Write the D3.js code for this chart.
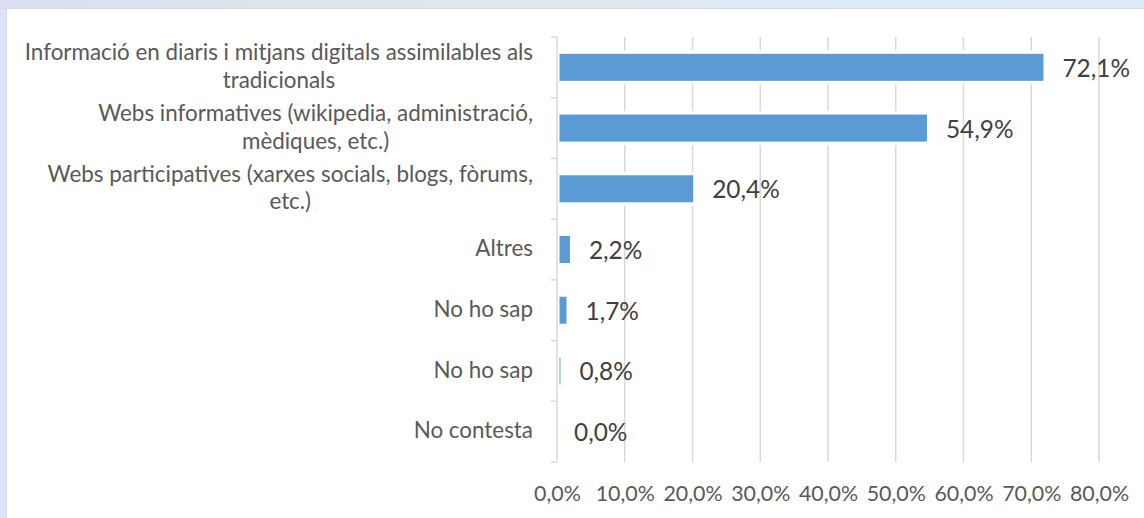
<!DOCTYPE html>
<html><head><meta charset="utf-8">
<script src="https://cdn.jsdelivr.net/npm/d3@7"></script>
<style>html,body{margin:0;padding:0;background:#fff;}svg{display:block;}</style>
</head><body>
<svg id="c" width="1144" height="518"></svg>
<script>
const categories = [
  ["Informació en diaris i mitjans digitals assimilables als", "tradicionals"],
  ["Webs informatives (wikipedia, administració,", "mèdiques, etc.)"],
  ["Webs participatives (xarxes socials, blogs, fòrums,", "etc.)"],
  ["Altres"],
  ["No ho sap"],
  ["No ho sap"],
  ["No contesta"]
];
const values = [72.1, 54.9, 20.4, 2.2, 1.7, 0.8, 0.0];
const tickValues = [0, 10, 20, 30, 40, 50, 60, 70, 80];
const fmt = v => v.toFixed(1).replace(".", ",") + "%";

const svg = d3.select("#c");
const W = 1144, H = 518;
const FONT = "Lato, 'Open Sans', sans-serif";

// frame
const defs = svg.append("defs");
const g1 = defs.append("linearGradient").attr("id","topg").attr("x1","0").attr("x2","1").attr("y1","0").attr("y2","0");
g1.append("stop").attr("offset","0").attr("stop-color","#d9dff2");
g1.append("stop").attr("offset","0.35").attr("stop-color","#dde7ea");
g1.append("stop").attr("offset","0.7").attr("stop-color","#dfebf8");
g1.append("stop").attr("offset","1").attr("stop-color","#dcecfb");
svg.append("rect").attr("width",W).attr("height",H).attr("fill","#dde2fb");
svg.append("rect").attr("width",W).attr("height",9).attr("fill","url(#topg)");
svg.append("rect").attr("x",6).attr("y",8).attr("width",W-6).attr("height",H-8).attr("fill","#d6d9e0");
svg.append("rect").attr("x",7).attr("y",9).attr("width",W-7).attr("height",H-9).attr("fill","#ffffff");

const x0 = 557, x1 = 1099, yTop = 37, yBot = 462;
const x = d3.scaleLinear().domain([0, 80]).range([x0, x1]);
const band = d3.scaleBand().domain(d3.range(categories.length)).range([yTop, yBot]);
const y = d3.scaleBand().domain(d3.range(categories.length)).range([yTop, yBot]).paddingInner(0.555).paddingOuter(0.2775);

// gridlines
svg.append("g").selectAll("line").data(tickValues.slice(1)).join("line")
  .attr("x1", d => x(d)).attr("x2", d => x(d))
  .attr("y1", yTop).attr("y2", yBot)
  .attr("stroke", "#d9d9d9").attr("stroke-width", 1.5);

// white halo behind bars
const halo = 3.5;
svg.append("g").selectAll("rect").data(values).join("rect")
  .attr("x", x(0)).attr("y", (d,i) => y(i) - halo)
  .attr("width", d => d > 0 ? Math.max(0, x(d) - x(0) + halo - 2) : 0)
  .attr("height", y.bandwidth() + 2 * halo)
  .attr("fill", "#ffffff");
// bars
svg.append("g").selectAll("rect").data(values).join("rect")
  .attr("x", x(0) + 2.5).attr("y", (d,i) => y(i))
  .attr("width", d => d > 0 ? Math.max(0, x(d) - x(0) - 4.5) : 0)
  .attr("height", y.bandwidth())
  .attr("fill", "#5b9bd5");

// value axis line and category ticks
svg.append("line").attr("x1", x0).attr("x2", x0).attr("y1", yTop).attr("y2", yBot)
  .attr("stroke", "#d9d9d9").attr("stroke-width", 1.5);
svg.append("g").selectAll("line").data(d3.range(categories.length + 1)).join("line")
  .attr("x1", x0 - 6).attr("x2", x0)
  .attr("y1", i => yTop + i * band.step()).attr("y2", i => yTop + i * band.step())
  .attr("stroke", "#d9d9d9").attr("stroke-width", 1.5);

// bottom tick labels via axis
const ax = svg.append("g").attr("transform", `translate(0, ${yBot})`)
  .call(d3.axisBottom(x).tickValues(tickValues).tickFormat(fmt).tickSize(0).tickPadding(24));
ax.select(".domain").remove();
ax.selectAll("text").attr("font-family", FONT).attr("font-size", 21.4).attr("fill", "#595959");

// category labels: block right-aligned, lines centered within block
const lab = svg.append("g");
const labelRight = 533;
categories.forEach((lines, i) => {
  const cy = band(i) + band.bandwidth() / 2;
  const lh = 27.5;
  const start = cy - (lines.length - 1) * lh / 2 - 1;
  const grp = lab.append("g");
  const texts = lines.map((t, j) => grp.append("text").attr("y", start + j * lh)
      .attr("dy", "0.35em").attr("text-anchor", "middle")
      .attr("font-family", FONT).attr("font-size", 22.4).attr("fill", "#595959").text(t));
  const maxW = d3.max(texts, s => s.node().getComputedTextLength());
  texts.forEach(s => s.attr("x", labelRight - maxW / 2));
});

// data labels
svg.append("g").selectAll("text").data(values).join("text")
  .attr("x", d => x(d) + 17).attr("y", (d,i) => band(i) + band.bandwidth()/2 + 1)
  .attr("dy", "0.35em").attr("font-family", FONT).attr("font-size", 24.4).attr("fill", "#404040")
  .text(fmt);
</script>
</body></html>
